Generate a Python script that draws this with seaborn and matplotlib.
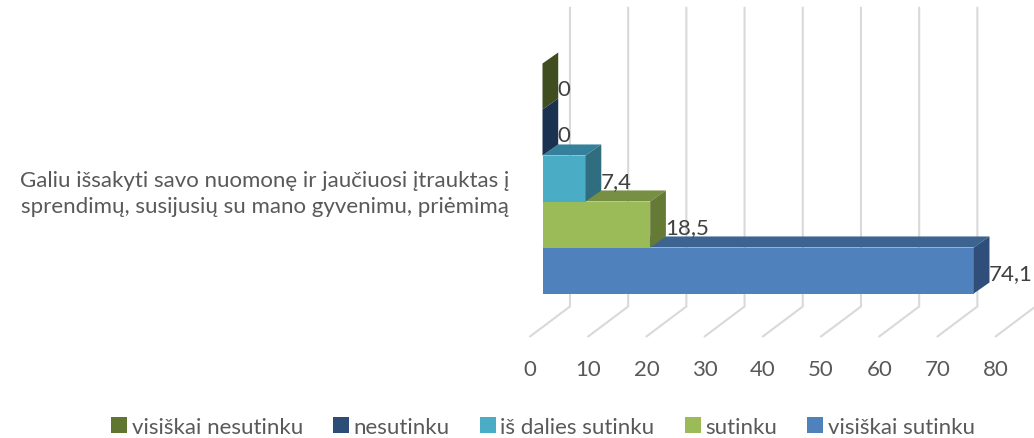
import matplotlib
matplotlib.use('Agg')
import matplotlib.pyplot as plt
from matplotlib.patches import Polygon
from matplotlib.transforms import ScaledTranslation
import pandas as pd
import seaborn as sns

# data
category = 'Galiu išsakyti savo nuomonę ir jaučiuosi įtrauktas į\nsprendimų, susijusių su mano gyvenimu, priėmimą'
series = ['visiškai nesutinku', 'nesutinku', 'iš dalies sutinku', 'sutinku', 'visiškai sutinku']
values = [0, 0, 7.4, 18.5, 74.1]
ticks = [0, 10, 20, 30, 40, 50, 60, 70, 80]

# front, top and side colours of each series
front = ['#5f7530', '#2c4d75', '#4bacc6', '#9bbb59', '#4f81bd']
top = ['#4c5e26', '#23405f', '#35809a', '#768f43', '#3d6390']
side = ['#3f4d1f', '#1b3150', '#2f6d7f', '#647a35', '#2f4f7a']

sns.set_theme(style='white')
plt.rcParams['font.family'] = ['Lato', 'DejaVu Sans']

df = pd.DataFrame({'category': category, 'series': series, 'value': values})

fig = plt.figure(figsize=(10.34, 4.39), dpi=100)
ax = fig.add_axes([542.5 / 1034, (439 - 294.5) / 439, 465.6 / 1034, 230 / 439])

sns.barplot(data=df, x='value', y='category', hue='series', hue_order=series,
            palette=front, saturation=1, width=1, gap=0, linewidth=0, ax=ax)
ax.set_xlim(0, 80)
ax.set_ylim(0.5, -0.5)
ax.set_xlabel('')
ax.set_ylabel('')
sns.despine(ax=ax, left=True, bottom=True)
ax.patch.set_alpha(0)

# how far the box and the walls are pushed back, in data units
depth_x, depth_y = 2.7, 0.048
wall_x, floor_x = 4.72, -2.15
wall_top, wall_bottom, floor_bottom = -0.743, 0.5565, 0.687

for t in ticks:
    ax.plot([t + wall_x, t + wall_x, t + floor_x], [wall_top, wall_bottom, floor_bottom],
            color='#d9d9d9', lw=1.5, clip_on=False, zorder=1, solid_joinstyle='miter')

# fake 3D: top and side faces from each bar, lower bars go first
for i, cont in enumerate(ax.containers):
    z = 10 - i
    for bar in cont:
        x0, y0 = bar.get_x(), bar.get_y()
        x1, y1 = x0 + bar.get_width(), y0 + bar.get_height()
        bar.set_zorder(z)
        ax.add_patch(Polygon([(x0, y0), (x1, y0), (x1 + depth_x, y0 - depth_y), (x0 + depth_x, y0 - depth_y)],
                             color=top[i], lw=0, zorder=z, clip_on=False))
        ax.add_patch(Polygon([(x1, y0), (x1 + depth_x, y0 - depth_y), (x1 + depth_x, y1 - depth_y), (x1, y1)],
                             color=side[i], lw=0, zorder=z, clip_on=False))
    for ann in ax.bar_label(cont, labels=[f'{values[i]:g}'.replace('.', ',')], padding=11, fontsize=16,
                            color='#404040', zorder=20, clip_on=False):
        ann.xyann = (ann.xyann[0], -2)

# tick labels sit at the front end of the floor lines
ax.set_xticks(ticks)
ax.tick_params(axis='x', length=0, pad=47.5, labelsize=16, labelcolor='#595959')
ax.tick_params(axis='y', length=0, pad=24, labelsize=16, labelcolor='#595959')
shift = ScaledTranslation(-12.5 / 100, 0, fig.dpi_scale_trans)
for lab in ax.get_xticklabels():
    lab.set_transform(lab.get_transform() + shift)
for lab in ax.get_yticklabels():
    lab.set_multialignment('center')
    lab.set_linespacing(1.35)
    lab.set_transform(lab.get_transform() + ScaledTranslation(0, -9.5 / 100, fig.dpi_scale_trans))

sns.move_legend(ax, 'center', bbox_to_anchor=(543 / 1034, (439 - 428) / 439),
                bbox_transform=fig.transFigure, ncol=5, frameon=False, title=None,
                fontsize=16, labelcolor='#595959', handlelength=0.72, handleheight=0.72,
                handletextpad=0.2, columnspacing=1.36)

fig.savefig('out.png', dpi=100)
